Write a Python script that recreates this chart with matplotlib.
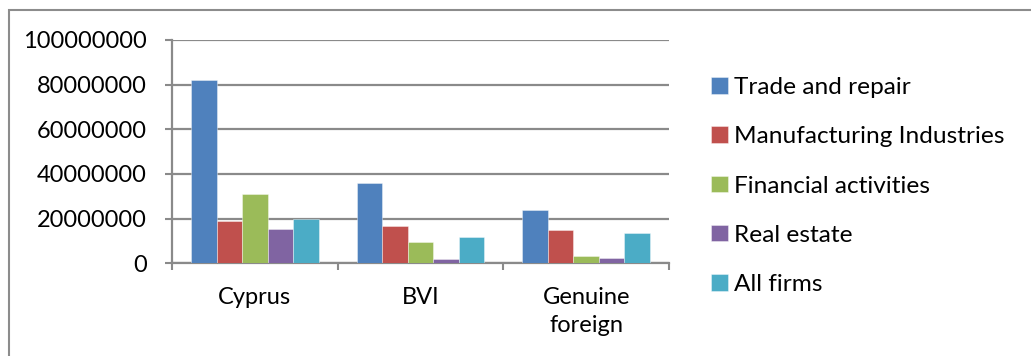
import numpy as np
import matplotlib.pyplot as plt
from matplotlib.patches import Rectangle
from matplotlib.ticker import FuncFormatter

plt.rcParams['font.family'] = ['Lato', 'DejaVu Sans']

groups = ['Cyprus', 'BVI', 'Genuine\nforeign']
sectors = ['Trade and repair', 'Manufacturing Industries', 'Financial activities',
           'Real estate', 'All firms']
trade = [82000000, 35800000, 23700000]
manufacturing = [19100000, 16600000, 14900000]
financial = [30900000, 9400000, 3100000]
real_estate = [15400000, 1900000, 2200000]
all_firms = [19800000, 11900000, 13400000]
colors = ['#4F81BD', '#C0504D', '#9BBB59', '#8064A2', '#4BACC6']

series = [trade, manufacturing, financial, real_estate, all_firms]

fig = plt.figure(figsize=(10.31, 3.56), dpi=100)
ax = fig.add_axes([172/1031, 1 - 263.3/356, 497/1031, 223.3/356])

grid_c = '#8a8a8a'
x = np.arange(len(groups)) + 0.5
w = 1 / 6.5
for i, (vals, name, c) in enumerate(zip(series, sectors, colors)):
    ax.bar(x + (i - 2) * w, vals, width=w, color=c, label=name,
           edgecolor=(1, 1, 1, 0.45), linewidth=0.6, zorder=3)

ax.set_xlim(0, 3)
ax.set_ylim(0, 100000000)
ax.set_yticks(np.arange(0, 100000001, 20000000))
ax.yaxis.set_major_formatter(FuncFormatter(lambda v, p: f'{int(v)}'))
ax.yaxis.grid(True, color=grid_c, linewidth=1.6, zorder=0)

# boundaries get the tick marks, group centres get the labels
ax.set_xticks([0, 1, 2, 3])
ax.set_xticklabels([])
ax.set_xticks(x, minor=True)
ax.set_xticklabels(groups, minor=True, fontsize=17, linespacing=1.42)
ax.tick_params(axis='x', which='major', length=5, width=1.5, color=grid_c)
ax.tick_params(axis='x', which='minor', length=0, pad=17)
ax.tick_params(axis='y', length=5, width=1.5, color=grid_c, labelsize=17, pad=13)

for s in ['top', 'right']:
    ax.spines[s].set_visible(False)
for s in ['left', 'bottom']:
    ax.spines[s].set_color(grid_c)
    ax.spines[s].set_linewidth(1.6)

fig.legend(loc='center left', bbox_to_anchor=(711/1031, 1 - 186/356),
           frameon=False, fontsize=17.6, handlelength=0.68, handleheight=0.68,
           handletextpad=0.25, labelspacing=1.15, borderpad=0, borderaxespad=0)

fig.patches.append(Rectangle((9/1031, -0.1), 1.2, 1 - 10/356 + 0.1,
                             transform=fig.transFigure, fill=False,
                             edgecolor='#8c8c8c', linewidth=1.5))

fig.savefig('out.png', dpi=100)
